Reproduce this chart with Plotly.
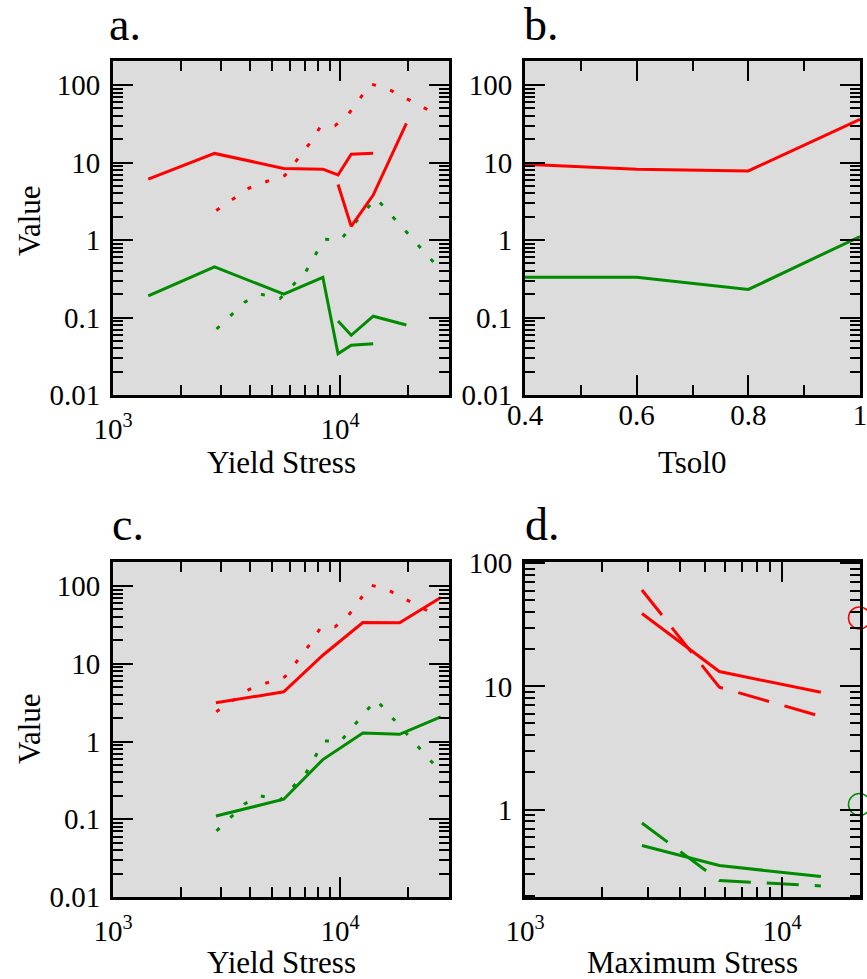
import plotly.graph_objects as go

# ---------------- data ----------------
# panel a (Yield Stress, log-log)
a_x1 = [1430, 2800, 5650, 8400, 9800, 11200, 14000]
a_red1 = [6.1, 13.1, 8.4, 8.2, 6.9, 12.8, 13.2]
a_green1 = [0.19, 0.45, 0.20, 0.33, 0.034, 0.044, 0.046]
a_x2 = [9800, 11200, 14000, 19600]
a_red2 = [5.2, 1.5, 3.8, 32.0]
a_green2 = [0.090, 0.059, 0.104, 0.080]

# dotted curves (shared by panels a and c)
dot_red_x = [2850, 3970, 4750, 5720, 7320, 8170, 9500, 10770, 13650, 16000, 27600]
dot_red = [2.41, 4.67, 5.69, 6.80, 17.4, 28.5, 29.9, 40.3, 103, 91.5, 39.5]
dot_green_x = [2860, 3815, 4470, 5440, 7060, 8500, 10070, 14410, 27760]
dot_green = [0.071, 0.159, 0.200, 0.176, 0.387, 1.02, 1.01, 3.47, 0.407]

# panel b (Tsol0)
b_x = [0.4, 0.6, 0.8, 1.0]
b_red = [9.5, 8.2, 7.8, 36.1]
b_green = [0.33, 0.33, 0.23, 1.11]

# panel c (Yield Stress)
c_x = [2840, 5650, 8400, 12600, 18300, 27800]
c_red = [3.15, 4.36, 12.9, 34.0, 33.8, 71.5]
c_green = [0.110, 0.181, 0.586, 1.29, 1.24, 2.08]

# panel d (Maximum Stress)
d_x = [2850, 5700, 14150]
d_red_solid = [39.1, 13.2, 8.96]
d_red_dash = [60.6, 9.85, 5.71]
d_green_solid = [0.511, 0.351, 0.286]
d_green_dash = [0.778, 0.265, 0.240]
d_circle_x = [20000, 20000]
d_circle_y = [36.0, 1.1]

RED = "#ff0000"
GREEN = "#008b00"
FONT = "Liberation Serif, Times New Roman, Times, DejaVu Serif, serif"
W, H = 867, 979
DOT = "4px,15px"
DASH = "32px,16px"

fig = go.Figure()


def line(x, y, color, dash="solid", ax="", width=3):
    fig.add_trace(go.Scatter(
        x=x, y=y, mode="lines",
        line=dict(color=color, width=width, dash=dash),
        xaxis="x" + ax, yaxis="y" + ax, showlegend=False,
        hoverinfo="skip"))


# panel a
line(dot_red_x, dot_red, RED, DOT, "")
line(dot_green_x, dot_green, GREEN, DOT, "")
line(a_x1, a_red1, RED, "solid", "")
line(a_x2, a_red2, RED, "solid", "")
line(a_x1, a_green1, GREEN, "solid", "")
line(a_x2, a_green2, GREEN, "solid", "")
# panel b
line(b_x, b_red, RED, "solid", "2")
line(b_x, b_green, GREEN, "solid", "2")
# panel c
line(dot_red_x, dot_red, RED, DOT, "3")
line(dot_green_x, dot_green, GREEN, DOT, "3")
line(c_x, c_red, RED, "solid", "3")
line(c_x, c_green, GREEN, "solid", "3")
# panel d
line(d_x, d_red_solid, RED, "solid", "4")
line(d_x, d_red_dash, RED, DASH, "4")
line(d_x, d_green_solid, GREEN, "solid", "4")
line(d_x, d_green_dash, GREEN, DASH, "4")
fig.add_trace(go.Scatter(
    x=d_circle_x, y=d_circle_y, mode="markers", cliponaxis=False,
    marker=dict(symbol="circle-open", size=22, color=[RED, GREEN],
                line=dict(width=1.5, color=[RED, GREEN])),
    xaxis="x4", yaxis="y4", showlegend=False, hoverinfo="skip"))


def px_x(p):
    return p / W


def px_y(p):
    return 1 - p / H


dec_minor = [m * 10 ** k for k in range(-2, 3) for m in range(2, 10)]
x_minor = [m * 10 ** k for k in range(3, 5) for m in range(2, 10)]

base = dict(
    showline=True, linecolor="black", linewidth=3, mirror="ticks",
    ticks="inside", ticklen=20, tickwidth=2, tickcolor="black",
    showgrid=False, zeroline=False, automargin=False,
    ticklabeloverflow="allow",
    tickfont=dict(family=FONT, size=29, color="black"),
)


def logx(domain, rng, anchor):
    d = dict(base)
    d.update(type="log", domain=domain, range=rng, anchor=anchor,
             tickmode="array", tickvals=[1000, 10000],
             ticktext=["10<sup>3</sup>", "10<sup>4</sup>"],
             ticklabelstandoff=6,
             minor=dict(tickvals=x_minor, ticks="inside", ticklen=10,
                        tickwidth=2, tickcolor="black", showgrid=False))
    return d


def logy(domain, rng, anchor, vals, texts):
    d = dict(base)
    d.update(type="log", domain=domain, range=rng, anchor=anchor,
             tickmode="array", tickvals=vals, ticktext=texts,
             ticklabelstandoff=4,
             minor=dict(tickvals=dec_minor, ticks="inside", ticklen=10,
                        tickwidth=2, tickcolor="black", showgrid=False))
    return d


xa = [px_x(113), px_x(449)]
xb = [px_x(525), px_x(860)]
ytop = [px_y(395), px_y(61)]
ybot = [px_y(897), px_y(562)]

yvals = [0.01, 0.1, 1, 10, 100]
ytexts = ["0.01", "0.1", "1", "10", "100"]

xb_axis = dict(base)
xb_axis.update(type="linear", domain=xb, range=[0.4, 1.0], anchor="y2",
               tickmode="array", tickvals=[0.4, 0.6, 0.8, 1.0],
               ticktext=["0.4", "0.6", "0.8", "1"], ticklabelstandoff=-8,
               minor=dict(tickvals=[0.5, 0.7, 0.9], ticks="inside",
                          ticklen=10, tickwidth=2, tickcolor="black",
                          showgrid=False))

annotations = []


def ann(text, x, y, size, angle=0):
    annotations.append(dict(
        text=text, x=px_x(x), y=px_y(y), xref="paper", yref="paper",
        showarrow=False, textangle=angle, xanchor="center", yanchor="middle",
        font=dict(family=FONT, size=size, color="black")))


ann("a.", 125, 24, 46)
ann("b.", 541, 24, 46)
ann("c.", 128, 524, 46)
ann("d.", 542, 524, 46)
ann("Yield Stress", 281, 462, 31)
ann("Tsol0", 692, 462, 31)
ann("Yield Stress", 281, 962, 31)
ann("Maximum Stress", 692, 962, 31)
ann("Value", 29, 220, 31, -90)
ann("Value", 29, 728, 31, -90)

fig.update_layout(
    width=W, height=H,
    margin=dict(l=0, r=0, t=0, b=0, autoexpand=False),
    paper_bgcolor="white",
    plot_bgcolor="#dcdcdc",
    showlegend=False,
    font=dict(family=FONT),
    xaxis=logx(xa, [3, 4.48], "y"),
    yaxis=logy(ytop, [-2, 2.31], "x", yvals, ytexts),
    xaxis2=xb_axis,
    yaxis2=logy(ytop, [-2, 2.31], "x2", yvals, ytexts),
    xaxis3=logx(xa, [3, 4.48], "y3"),
    yaxis3=logy(ybot, [-2, 2.31], "x3", yvals, ytexts),
    xaxis4=logx(xb, [3, 4.303], "y4"),
    yaxis4=logy(ybot, [-0.71, 2.01], "x4", [1, 10, 100], ["1", "10", "100"]),
    annotations=annotations,
)

fig.write_html("out.html")
